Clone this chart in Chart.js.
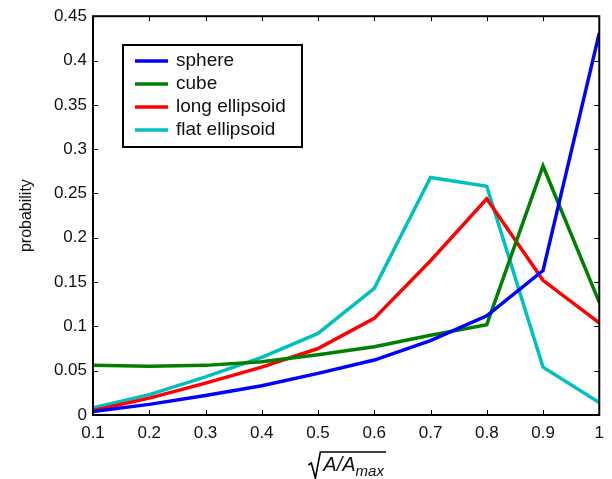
<!DOCTYPE html>
<html>
<head>
<meta charset="utf-8">
<script src="https://cdn.jsdelivr.net/npm/chart.js@4"></script>
<style>
    html, body { margin: 0; padding: 0; background: #ffffff; }
    #graphCanvas { display: block; }
</style>
</head>
<body>
<canvas id="graphCanvas" width="612" height="479"></canvas>
<script>
// Data
const xValues = [0.1, 0.2, 0.3, 0.4, 0.5, 0.6, 0.7, 0.8, 0.9, 1.0];
const sphere = [0.004, 0.012, 0.022, 0.033, 0.047, 0.062, 0.084, 0.112, 0.163, 0.431];
const cube = [0.056, 0.055, 0.056, 0.060, 0.068, 0.077, 0.090, 0.102, 0.281, 0.127];
const longEllipsoid = [0.005, 0.019, 0.036, 0.054, 0.075, 0.109, 0.174, 0.244, 0.152, 0.104];
const flatEllipsoid = [0.008, 0.023, 0.043, 0.065, 0.092, 0.143, 0.268, 0.258, 0.054, 0.014];

const seriesNames = ['sphere', 'cube', 'long ellipsoid', 'flat ellipsoid'];
const seriesColors = ['#0000ff', '#008000', '#ff0000', '#00bfbf'];
const seriesValues = [sphere, cube, longEllipsoid, flatEllipsoid];

const fontFamily = "'Liberation Sans', Arial, sans-serif";

function toPoints(values) {
    return values.map((y, i) => ({ x: xValues[i], y: y }));
}

// Box around the plot with inward ticks, MATLAB style
const boxPlugin = {
    id: 'boxPlugin',
    afterDraw(chart) {
        const c = chart.ctx;
        const a = chart.chartArea;
        const xs = chart.scales.x;
        const ys = chart.scales.y;
        c.save();
        c.strokeStyle = '#000';
        c.lineWidth = 1;
        xs.ticks.forEach(t => {
            const px = Math.round(xs.getPixelForValue(t.value)) + 0.5;
            c.beginPath();
            c.moveTo(px, a.bottom); c.lineTo(px, a.bottom - 5);
            c.moveTo(px, a.top); c.lineTo(px, a.top + 5);
            c.stroke();
        });
        ys.ticks.forEach(t => {
            const py = Math.round(ys.getPixelForValue(t.value)) + 0.5;
            c.beginPath();
            c.moveTo(a.left, py); c.lineTo(a.left + 5, py);
            c.moveTo(a.right, py); c.lineTo(a.right - 5, py);
            c.stroke();
        });
        c.lineWidth = 2;
        c.strokeRect(a.left, a.top, a.right - a.left, a.bottom - a.top);

        // x axis title: sqrt(A/A_max)
        const cx = (a.left + a.right) / 2;
        const base = 471;
        c.fillStyle = '#111';
        c.font = 'italic 20px ' + fontFamily;
        const mainText = 'A/A';
        const mainW = c.measureText(mainText).width;
        c.font = 'italic 15px ' + fontFamily;
        const subW = c.measureText('max').width;
        const totalW = 15 + mainW + subW;
        let x0 = cx - totalW / 2;
        // radical sign
        c.lineWidth = 1.6;
        c.beginPath();
        c.moveTo(x0, base - 6);
        c.lineTo(x0 + 3, base - 8);
        c.lineTo(x0 + 7, base + 7);
        c.lineTo(x0 + 12, base - 19);
        c.lineTo(x0 + totalW + 2, base - 19);
        c.stroke();
        c.font = 'italic 20px ' + fontFamily;
        c.textBaseline = 'alphabetic';
        c.textAlign = 'left';
        c.fillText(mainText, x0 + 15, base);
        c.font = 'italic 15px ' + fontFamily;
        c.fillText('max', x0 + 15 + mainW, base + 5);
        c.restore();
    }
};

// Legend box in the upper left of the plot
const legendBoxPlugin = {
    id: 'legendBox',
    afterDraw(chart) {
        const c = chart.ctx;
        const left = 123, top = 45, width = 179, height = 102;
        c.save();
        c.fillStyle = '#fff';
        c.fillRect(left, top, width, height);
        c.strokeStyle = '#000';
        c.lineWidth = 2;
        c.strokeRect(left, top, width, height);
        c.font = '19px ' + fontFamily;
        c.textBaseline = 'middle';
        c.textAlign = 'left';
        chart.data.datasets.forEach((ds, i) => {
            const y = top + 16 + i * 23;
            c.strokeStyle = ds.borderColor;
            c.lineWidth = 3.5;
            c.beginPath();
            c.moveTo(left + 12, y);
            c.lineTo(left + 45, y);
            c.stroke();
            c.fillStyle = '#111';
            c.fillText(ds.label, left + 53, y);
        });
        c.restore();
    }
};

const ctx = document.getElementById('graphCanvas').getContext('2d');
const chart = new Chart(ctx, {
    type: 'line',
    data: {
        datasets: seriesNames.map((name, i) => ({
            label: name,
            data: toPoints(seriesValues[i]),
            borderColor: seriesColors[i],
            backgroundColor: seriesColors[i],
            borderWidth: 3.5,
            pointRadius: 0,
            tension: 0,
            fill: false
        }))
    },
    options: {
        responsive: false,
        animation: false,
        layout: {
            padding: { top: 15, right: 10, left: 0, bottom: 0 }
        },
        scales: {
            x: {
                type: 'linear',
                min: 0.1,
                max: 1,
                grid: { display: false, drawTicks: false },
                border: { display: false },
                ticks: {
                    stepSize: 0.1,
                    padding: 8,
                    color: '#111',
                    font: { family: fontFamily, size: 17 },
                    maxRotation: 0,
                    callback: v => String(Math.round(v * 10) / 10)
                },
                afterFit: s => { s.height = 64; }
            },
            y: {
                type: 'linear',
                min: 0,
                max: 0.45,
                grid: { display: false, drawTicks: false },
                border: { display: false },
                title: {
                    display: true,
                    text: 'probability',
                    color: '#111',
                    font: { family: fontFamily, size: 16 },
                    padding: { top: 17, bottom: 0 }
                },
                ticks: {
                    stepSize: 0.05,
                    padding: 6,
                    color: '#111',
                    font: { family: fontFamily, size: 17 },
                    callback: v => String(parseFloat(v.toFixed(2)))
                },
                afterFit: s => { s.width = 93; }
            }
        },
        plugins: {
            legend: { display: false },
            tooltip: { enabled: false }
        }
    },
    plugins: [boxPlugin, legendBoxPlugin]
});
</script>
</body>
</html>
